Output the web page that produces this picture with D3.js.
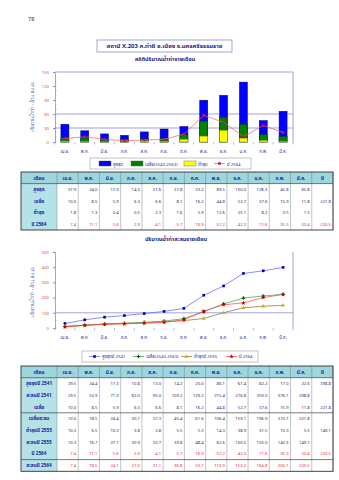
<!DOCTYPE html>
<html><head><meta charset="utf-8">
<script src="https://cdn.jsdelivr.net/npm/d3@7"></script>
<style>
body{margin:0;background:#fff}
svg{display:block}
text{font-family:"Noto Sans Thai","Noto Sans","DejaVu Sans",sans-serif}
</style>
</head><body>
<svg id="c" width="339" height="480"></svg>
<script>
const months = ["เม.ย.","พ.ค.","มิ.ย.","ก.ค.","ส.ค.","ก.ย.","ต.ค.","พ.ย.","ธ.ค.","ม.ค.","ก.พ.","มี.ค."];
const maxMonthly = [37.9,24.0,17.3,14.3,21.6,27.8,33.2,89.5,100.0,128.3,45.8,65.8];
const avgMonthly = [10.0,8.5,5.9,6.3,6.6,8.1,16.2,44.8,52.7,37.6,15.9,11.8];
const minMonthly = [1.8,1.3,0.4,0.5,2.3,1.6,5.9,12.6,25.1,8.2,3.5,1.5];
const y2564 = [7.4,11.1,5.6,2.9,4.1,5.7,16.9,57.2,42.3,11.6,35.3,20.4];
const max2541 = [29.5,24.4,17.3,10.8,13.0,14.2,20.0,86.1,61.4,82.2,17.0,22.6];
const cum2541 = [29.5,53.9,71.3,82.0,95.0,109.2,129.2,215.4,276.8,359.0,376.1,398.8];
const cumAvg = [10.0,18.5,24.4,30.7,37.3,45.4,61.6,106.4,159.1,196.9,210.7,221.8];
const min2555 = [10.3,6.5,10.3,3.8,2.8,5.5,5.3,14.3,38.9,31.5,10.3,5.5];
const cum2555 = [10.3,16.7,27.1,30.9,33.7,39.8,48.4,62.6,100.5,133.0,143.3,149.1];
const cum2564 = [7.4,18.5,24.1,27.0,31.1,36.8,53.7,110.9,153.2,164.8,200.1,220.5];
const totals = {max2541:398.8, avg:221.8, min2555:149.1, y2564:220.5};
const ticks1 = [0,30,60,90,120,150];
const ticks2 = [0,100,200,300,400,500];

const svg = d3.select("#c");
const AX = "#8c8cd0", TICK = "#e04848", XL = "#2a2aa0", TITLE = "#1a1a80";

svg.append("text").attr("x",28).attr("y",21).attr("font-size",5.5).attr("fill","#333").text("78");

// Title box
svg.append("rect").attr("x",97).attr("y",40).attr("width",135).attr("height",12)
  .attr("fill","#fff").attr("stroke","#8c8cd0").attr("stroke-width",0.8);
svg.append("text").attr("x",164.5).attr("y",48.3).attr("text-anchor","middle")
  .attr("font-size",6).attr("font-weight","bold").attr("fill",TITLE)
  .text("สถานี X.203 ค.ท่าดี อ.เมือง จ.นครศรีธรรมราช");
svg.append("text").attr("x",165).attr("y",61).attr("text-anchor","middle")
  .attr("font-size",5.5).attr("font-weight","bold").attr("fill",TITLE)
  .text("สถิติปริมาณน้ำท่ารายเดือน");

const L = 55, R = 293;
const x = d3.scaleBand().domain(months).range([L,R]);

function yTitle(cy){
  svg.append("text").attr("transform",`translate(34,${cy}) rotate(-90)`).attr("text-anchor","middle")
    .attr("font-size",5).attr("fill","#4a4ad0").text("ปริมาณน้ำท่า - ล้าน ลบ.ม.");
}

function frame(y, ticks, grid, minorStep, top, bottomY, showTop){
  const g = svg.append("g");
  // gridlines
  g.selectAll(".gl").data(grid).join("line")
    .attr("x1",L).attr("x2",R).attr("y1",d=>y(d)).attr("y2",d=>y(d))
    .attr("stroke",AX).attr("stroke-width",0.8);
  if(showTop) g.append("line").attr("x1",L).attr("x2",R).attr("y1",y(ticks[ticks.length-1])).attr("y2",y(ticks[ticks.length-1])).attr("stroke",AX).attr("stroke-width",0.8);
  g.append("line").attr("x1",R).attr("x2",R).attr("y1",y(ticks[ticks.length-1])).attr("y2",y(0)).attr("stroke",AX).attr("stroke-width",0.8);
  // y axis
  const ax = d3.axisLeft(y).tickValues(ticks).tickSize(2).tickPadding(4);
  const ag = g.append("g").attr("transform",`translate(${L},0)`).call(ax);
  ag.select(".domain").attr("stroke",AX).attr("stroke-width",0.8);
  ag.selectAll(".tick line").attr("stroke",AX);
  ag.selectAll("text").attr("font-size",4.2).attr("fill",TICK).attr("font-family",null);
  const minor = d3.range(0, ticks[ticks.length-1], minorStep);
  g.selectAll(".mn").data(minor).join("line").attr("x1",L).attr("x2",L+1.5)
    .attr("y1",d=>y(d)).attr("y2",d=>y(d)).attr("stroke",AX).attr("stroke-width",0.5);
  // x ticks at band edges
  const edges = months.map(m=>x(m)).concat([R]);
  g.selectAll(".xt").data(edges).join("line").attr("x1",d=>d).attr("x2",d=>d)
    .attr("y1",y(0)).attr("y2",y(0)+2.5).attr("stroke",AX).attr("stroke-width",0.6);
  g.selectAll(".xl").data(months).join("text").attr("x",d=>x(d)+x.bandwidth()/2)
    .attr("y",bottomY).attr("text-anchor","middle").attr("font-size",4.3).attr("fill",XL).text(d=>d);
}

// ---------- Chart 1 ----------
const y1 = d3.scaleLinear().domain([0,150]).range([142,72]);
yTitle(107);
frame(y1, ticks1, [30,60], 10, 72, 153, true);
const bw = 8;
const c1 = svg.append("g");
function bars(vals, fill, stroke){
  c1.selectAll(null).data(vals).join("rect")
    .attr("x",(d,i)=>x(months[i])+x.bandwidth()/2-bw/2).attr("width",bw)
    .attr("y",d=>y1(d)).attr("height",d=>y1(0)-y1(d))
    .attr("fill",fill).attr("stroke",stroke).attr("stroke-width",0.5);
}
bars(maxMonthly,"#0000ff","#000080");
bars(avgMonthly,"#008000","#004000");
bars(minMonthly,"#ffff00","#909000");
const line1 = d3.line().x((d,i)=>x(months[i])+x.bandwidth()/2).y(d=>y1(d));
c1.append("path").attr("d",line1(y2564)).attr("fill","none").attr("stroke","#ff5a5a").attr("stroke-width",0.7);
c1.selectAll(null).data(y2564).join("rect")
  .attr("x",(d,i)=>x(months[i])+x.bandwidth()/2-1.3).attr("y",d=>y1(d)-1.3)
  .attr("width",2.6).attr("height",2.6).attr("fill","#d01040");

// Legend 1
const lg1 = svg.append("g");
lg1.append("rect").attr("x",90).attr("y",158).attr("width",161).attr("height",11)
  .attr("fill","#fff").attr("stroke","#999").attr("stroke-width",0.6);
const leg1 = [{t:"สูงสุด",c:"#0000ff",x:99},{t:"เฉลี่ย(2543-2563)",c:"#008000",x:131},{t:"ต่ำสุด",c:"#ffff00",x:184}];
leg1.forEach(d=>{
  lg1.append("rect").attr("x",d.x).attr("y",161).attr("width",12).attr("height",5).attr("fill",d.c).attr("stroke","#555").attr("stroke-width",0.4);
  lg1.append("text").attr("x",d.x+14).attr("y",165.5).attr("font-size",4.3).attr("fill","#2a2aa0").text(d.t);
});
lg1.append("line").attr("x1",214).attr("x2",225).attr("y1",163.5).attr("y2",163.5).attr("stroke","#ff5a5a").attr("stroke-width",0.7);
lg1.append("rect").attr("x",218.2).attr("y",162.2).attr("width",2.6).attr("height",2.6).attr("fill","#d01040");
lg1.append("text").attr("x",227).attr("y",165.5).attr("font-size",4.3).attr("fill","#2a2aa0").text("ปี 2564");

// ---------- Tables ----------
const cols = months.concat(["ปี"]);
const tx = d3.scaleBand().domain(cols).range([57,333]);
function table(top, rowH, rows, thick){
  const g = svg.append("g");
  const H = rowH*(rows.length+1);
  g.append("rect").attr("x",21).attr("y",top).attr("width",312).attr("height",rowH).attr("fill","#9dd6dd");
  g.append("rect").attr("x",21).attr("y",top+rowH).attr("width",36).attr("height",H-rowH).attr("fill","#b4e2e7");
  // vertical lines
  const vx = [57].concat(cols.map(c=>tx(c)+tx.bandwidth()));
  g.selectAll(".v").data(vx).join("line").attr("x1",d=>d).attr("x2",d=>d).attr("y1",top).attr("y2",top+H)
    .attr("stroke","#6a6a6a").attr("stroke-width",0.4);
  // header underline
  g.append("line").attr("x1",21).attr("x2",333).attr("y1",top+rowH).attr("y2",top+rowH).attr("stroke","#444").attr("stroke-width",0.7);
  thick.forEach(r=>{
    g.append("line").attr("x1",21).attr("x2",333).attr("y1",top+rowH*(r+1)).attr("y2",top+rowH*(r+1)).attr("stroke","#444").attr("stroke-width",0.7);
  });
  g.append("rect").attr("x",21).attr("y",top).attr("width",312).attr("height",H).attr("fill","none").attr("stroke","#333").attr("stroke-width",0.9);
  g.append("text").attr("x",39).attr("y",top+rowH/2+1.8).attr("text-anchor","middle").attr("font-size",5).attr("font-weight","bold").attr("fill","#1a1aa0").text("เดือน");
  g.selectAll(".h").data(cols).join("text").attr("x",d=>tx(d)+tx.bandwidth()/2).attr("y",top+rowH/2+1.8)
    .attr("text-anchor","middle").attr("font-size",4.6).attr("font-weight","bold").attr("fill","#1a1aa0").text(d=>d);
  rows.forEach((r,i)=>{
    const yy = top+rowH*(i+1)+rowH/2+1.6;
    g.append("text").attr("x",39).attr("y",yy).attr("text-anchor","middle").attr("font-size",4.7).attr("font-weight","bold").attr("fill","#1a1aa0").text(r.label);
    g.selectAll(null).data(r.vals).join("text").attr("x",(d,j)=>tx(months[j])+tx.bandwidth()-2).attr("y",yy)
      .attr("text-anchor","end").attr("font-size",4.2).attr("fill",r.color).text(d=>d.toFixed(1));
    if(r.total!=null) g.append("text").attr("x",tx("ปี")+tx.bandwidth()-2).attr("y",yy).attr("text-anchor","end")
      .attr("font-size",4.2).attr("fill",r.color).text(r.total.toFixed(1));
  });
}
const VC = "#2a2a6a", RC = "#e03030";
table(172, 11.6, [
  {label:"สูงสุด", vals:maxMonthly, color:VC},
  {label:"เฉลี่ย", vals:avgMonthly, total:totals.avg, color:VC},
  {label:"ต่ำสุด", vals:minMonthly, color:VC},
  {label:"ปี 2564", vals:y2564, total:totals.y2564, color:RC}
], []);

// ---------- Chart 2 ----------
svg.append("text").attr("x",176).attr("y",241).attr("text-anchor","middle")
  .attr("font-size",5.5).attr("font-weight","bold").attr("fill",TITLE).text("ปริมาณน้ำท่าสะสมรายเดือน");
const y2 = d3.scaleLinear().domain([0,500]).range([328,252]);
yTitle(292);
frame(y2, ticks2, [100], 50, 252, 339, false);
const c2 = svg.append("g");
const line2 = d3.line().x((d,i)=>x(months[i])+x.bandwidth()/2).y(d=>y2(d));
const series2 = [
  {vals:cum2541, line:"#5a5aff", mk:"#0000c0", shape:d3.symbolSquare, name:"สูงสุดปี 2541"},
  {vals:cumAvg, line:"#3a9a3a", mk:"#006000", shape:d3.symbolCross, name:"เฉลี่ย(2543-2563)"},
  {vals:cum2555, line:"#8a6a2a", mk:"#c8b400", shape:d3.symbolTriangle, name:"ต่ำสุดปี 2555"},
  {vals:cum2564, line:"#ff4040", mk:"#c00000", shape:d3.symbolStar, name:"ปี 2564"}
];
series2.forEach(s=>{
  c2.append("path").attr("d",line2(s.vals)).attr("fill","none").attr("stroke",s.line).attr("stroke-width",0.7);
  c2.selectAll(null).data(s.vals).join("path")
    .attr("transform",(d,i)=>`translate(${x(months[i])+x.bandwidth()/2},${y2(d)})`)
    .attr("d",d3.symbol().type(s.shape).size(7)).attr("fill",s.mk);
});
// Legend 2
const lg2 = svg.append("g");
lg2.append("rect").attr("x",82).attr("y",351).attr("width",176).attr("height",11)
  .attr("fill","#fff").attr("stroke","#999").attr("stroke-width",0.6);
const lx = [89,133,181,226];
series2.forEach((s,i)=>{
  lg2.append("line").attr("x1",lx[i]).attr("x2",lx[i]+11).attr("y1",356.5).attr("y2",356.5).attr("stroke",s.line).attr("stroke-width",0.7);
  lg2.append("path").attr("transform",`translate(${lx[i]+5.5},356.5)`).attr("d",d3.symbol().type(s.shape).size(7)).attr("fill",s.mk);
  lg2.append("text").attr("x",lx[i]+13).attr("y",358.3).attr("font-size",4.3).attr("fill","#2a2aa0").text(s.name);
});

table(366, 11.7, [
  {label:"สูงสุดปี 2541", vals:max2541, total:totals.max2541, color:VC},
  {label:"สะสมปี 2541", vals:cum2541, color:VC},
  {label:"เฉลี่ย", vals:avgMonthly, total:totals.avg, color:VC},
  {label:"เฉลี่ยสะสม", vals:cumAvg, color:VC},
  {label:"ต่ำสุดปี 2555", vals:min2555, total:totals.min2555, color:VC},
  {label:"สะสมปี 2555", vals:cum2555, color:VC},
  {label:"ปี 2564", vals:y2564, total:totals.y2564, color:RC},
  {label:"สะสมปี 2564", vals:cum2564, color:RC}
], [3,7]);
</script>
</body></html>
